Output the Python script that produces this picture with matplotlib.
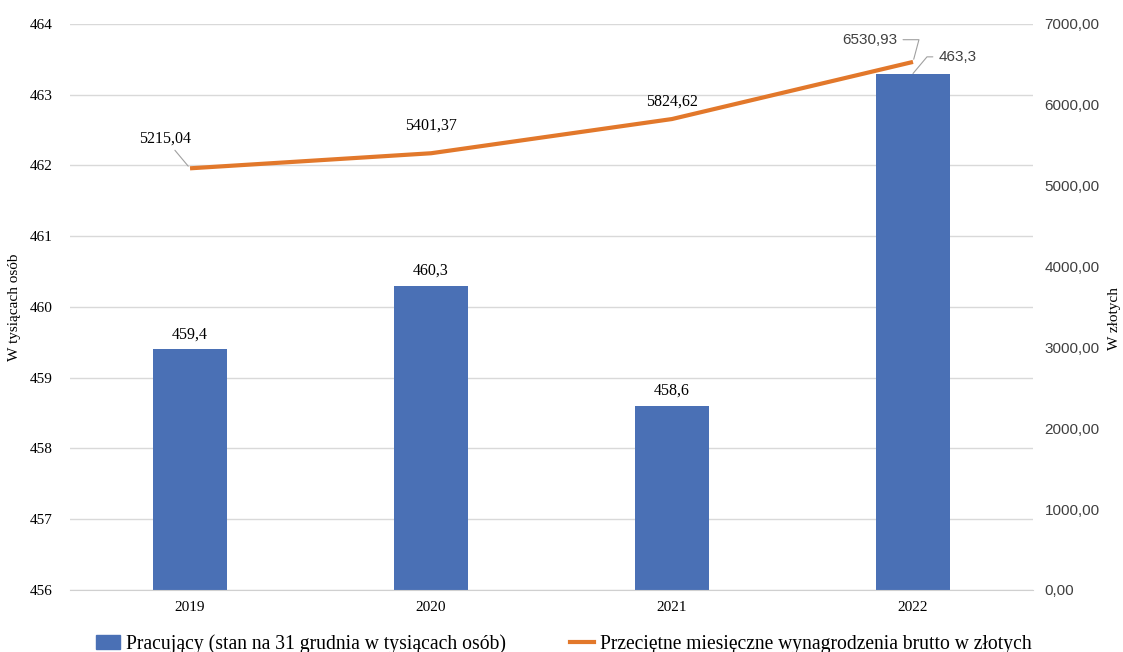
import matplotlib.pyplot as plt
from matplotlib.lines import Line2D
from matplotlib.patches import Patch

years = ['2019', '2020', '2021', '2022']
pracujacy = [459.4, 460.3, 458.6, 463.3]
wynagrodzenia = [5215.04, 5401.37, 5824.62, 6530.93]
left_ticks = [456, 457, 458, 459, 460, 461, 462, 463, 464]
right_ticks = [0, 1000, 2000, 3000, 4000, 5000, 6000, 7000]

bar_color = '#4A70B5'
line_color = '#E2782B'
serif = ['Liberation Serif', 'DejaVu Serif']
sans = ['Liberation Sans', 'DejaVu Sans']
plt.rcParams['font.family'] = serif


def pl(v, d):
    return f'{v:.{d}f}'.replace('.', ',')


fig = plt.figure(figsize=(11.23, 6.52), dpi=100)
ax = fig.add_axes([0.0619, 0.0951, 0.8584, 0.8681])
ax2 = ax.twinx()

x = list(range(len(years)))
ax.bar(x, pracujacy, width=0.31, color=bar_color, zorder=2)
ax.set_ylim(456, 464)
ax.set_xlim(-0.5, 3.5)
ax.set_yticks(left_ticks)
ax.set_yticklabels([str(t) for t in left_ticks], fontsize=11)
ax.set_xticks(x)
ax.set_xticklabels(years, fontsize=11)
ax.grid(axis='y', color='#d9d9d9', lw=1, zorder=0)
ax.set_axisbelow(True)
for s in ['top', 'left', 'right']:
    ax.spines[s].set_visible(False)
ax.spines['bottom'].set_color('#d0d0d0')
ax.tick_params(axis='y', length=0, pad=12)
ax.tick_params(axis='x', length=0, pad=8)
ax.set_ylabel('W tysiącach osób', fontsize=11, va='center')
ax.yaxis.set_label_coords(-0.057, 0.5)

ax2.plot(x, wynagrodzenia, color=line_color, lw=3, zorder=3, solid_capstyle='butt')
ax2.set_ylim(0, 7000)
ax2.set_yticks(right_ticks)
ax2.set_yticklabels([pl(t, 2) for t in right_ticks], fontsize=11, color='#404040')
for t in ax2.get_yticklabels():
    t.set_family(sans)
for s in ax2.spines.values():
    s.set_visible(False)
ax2.tick_params(length=0, pad=8)
ax2.set_ylabel('W złotych', fontsize=11, va='center')
ax2.yaxis.set_label_coords(1.084, 0.48)

# bar labels
for i in range(3):
    ax.annotate(pl(pracujacy[i], 1), (i, pracujacy[i]), xytext=(0, 11),
                textcoords='offset points', ha='center', va='center',
                fontsize=11.5)
ax.annotate(pl(pracujacy[3], 1), (3, pracujacy[3]), xytext=(32, 12),
            textcoords='offset points', ha='center', va='center',
            family=sans, fontsize=11, color='#404040',
            arrowprops=dict(arrowstyle='-', color='#a0a0a0', lw=0.8,
                            connectionstyle='angle,angleA=0,angleB=50,rad=0',
                            shrinkA=2, shrinkB=0))

# line labels
ax2.annotate(pl(wynagrodzenia[0], 2), (0, wynagrodzenia[0]), xytext=(-18, 21.5),
             textcoords='offset points', ha='center', va='center',
             fontsize=11.5,
             arrowprops=dict(arrowstyle='-', color='#a0a0a0', lw=0.8,
                             shrinkA=1, shrinkB=2))
ax2.annotate(pl(wynagrodzenia[1], 2), (1, wynagrodzenia[1]), xytext=(0, 20),
             textcoords='offset points', ha='center', va='center', fontsize=11.5)
ax2.annotate(pl(wynagrodzenia[2], 2), (2, wynagrodzenia[2]), xytext=(0, 12.5),
             textcoords='offset points', ha='center', va='center', fontsize=11.5)
ax2.annotate(pl(wynagrodzenia[3], 2), (3, wynagrodzenia[3]), xytext=(-31, 16),
             textcoords='offset points', ha='center', va='center',
             family=sans, fontsize=11, color='#404040',
             arrowprops=dict(arrowstyle='-', color='#a0a0a0', lw=0.8,
                             connectionstyle='angle,angleA=0,angleB=75,rad=0',
                             shrinkA=2, shrinkB=2))

handles = [Patch(color=bar_color), Line2D([], [], color=line_color, lw=3)]
labels = ['Pracujący (stan na 31 grudnia w tysiącach osób)',
          'Przeciętne miesięczne wynagrodzenia brutto w złotych']
fig.legend(handles, labels, loc='lower center', bbox_to_anchor=(0.502, -0.03),
           ncol=2, frameon=False, prop={'size': 14.1},
           columnspacing=3.3, handlelength=1.2, handletextpad=0.3)

fig.savefig('out.png', dpi=100)
